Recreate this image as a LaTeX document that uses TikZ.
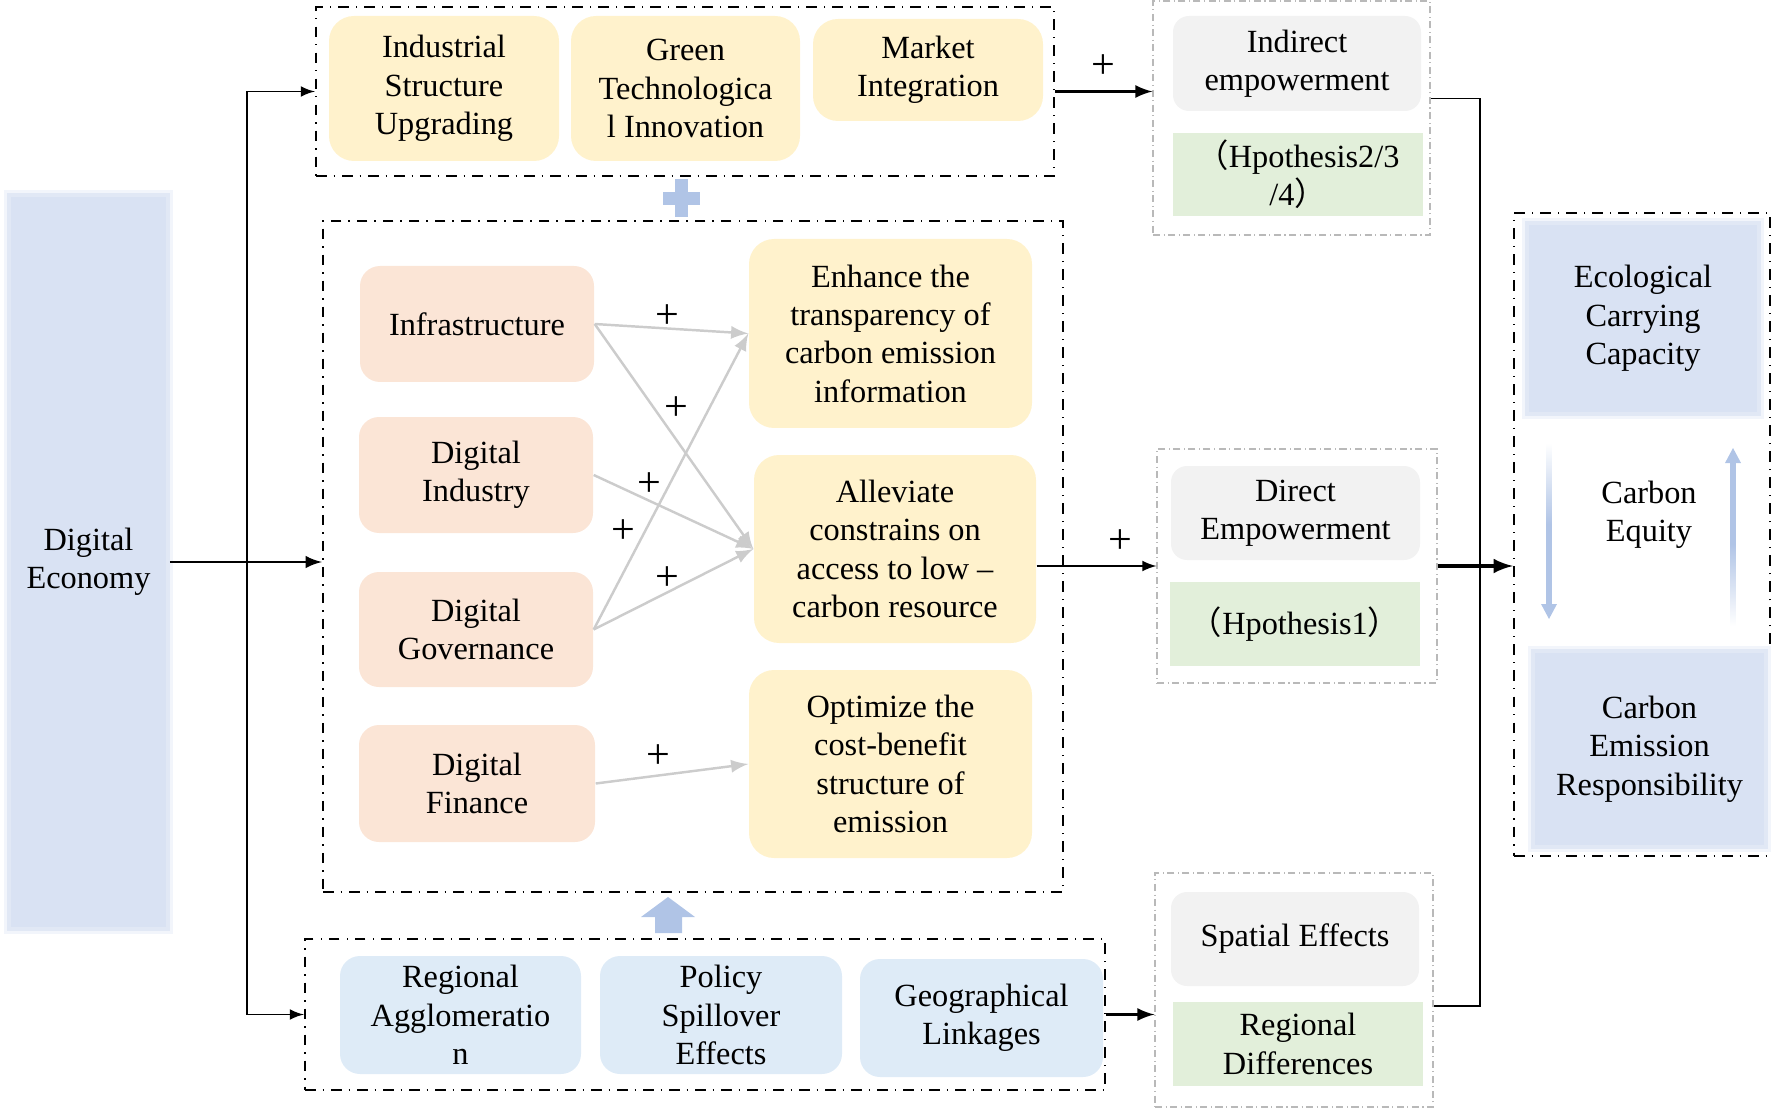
\documentclass[tikz,border=0pt]{standalone}
\usepackage{fontspec}
\setmainfont{Liberation Serif}
\newfontfamily\cjk{Noto Sans CJK SC}
\usepackage{tikz}
\usetikzlibrary{arrows,shapes}
\definecolor{boxyellow}{HTML}{FFF2CC}
\definecolor{boxsalmon}{HTML}{FBE5D6}
\definecolor{boxblue}{HTML}{DEEBF7}
\definecolor{boxgray}{HTML}{F2F2F2}
\definecolor{boxgreen}{HTML}{E2EFDA}
\definecolor{softblue}{HTML}{D9E2F3}
\definecolor{markblue}{HTML}{B0C4E6}
\definecolor{linkgray}{HTML}{CCCCCC}
\tikzstyle{txt} = [align=center, inner sep=0pt, font=\fontsize{9.2}{10.9}\selectfont]
\tikzstyle{ybox} = [txt, fill=boxyellow, rounded corners=2.5mm]
\tikzstyle{sbox} = [txt, fill=boxsalmon, rounded corners=2mm]
\tikzstyle{bbox} = [txt, fill=boxblue, rounded corners=2mm]
\tikzstyle{gbox} = [txt, fill=boxgray, rounded corners=1.6mm]
\tikzstyle{hbox} = [txt, fill=boxgreen]
\tikzstyle{soft} = [txt, fill=softblue, draw=softblue!80, line width=1pt, preaction={draw=softblue!35, line width=2.8pt}]
\tikzstyle{grp} = [draw=black, dash dot, line width=0.65pt]
\tikzstyle{lgrp} = [draw=gray!55, dash pattern=on 2pt off 1pt on 0.3pt off 1pt, line width=0.3pt]
\tikzstyle{arrow} = [->, line width=0.6pt]
\tikzstyle{garrow} = [->, draw=linkgray, line width=0.7pt]
\tikzstyle{sgn} = [font=\fontsize{12}{14}\selectfont]

\begin{document}
\begin{tikzpicture}[x=0.1mm,y=-0.1mm]
    \tikzset{>=latex}
    \useasboundingbox (0,0) rectangle (1777,1108);

    % left block
    \node[soft, minimum width=15.9mm, minimum height=73.4mm] (de) at (88.5,562) {Digital\\Economy};

    % upper channel
    \node[grp, minimum width=73.8mm, minimum height=16.9mm] (topgrp) at (685,91.5) {};
    \node[ybox, minimum width=23mm, minimum height=14.5mm] (isu) at (444,88.5) {Industrial\\Structure\\Upgrading};
    \node[ybox, minimum width=22.9mm, minimum height=14.5mm] (gti) at (685.5,88.5) {Green\\Technologica\\l Innovation};
    \node[ybox, minimum width=23mm, minimum height=10.2mm] (mi) at (928,70) {Market\\Integration};

    \node[lgrp, minimum width=27.7mm, minimum height=23.4mm] (indgrp) at (1291.5,118) {};
    \node[gbox, minimum width=24.8mm, minimum height=9.5mm] (indtxt) at (1297,63.5) {Indirect\\empowerment};
    \node[hbox, minimum width=25mm, minimum height=8.3mm] (indhyp) at (1298,174.5) {{\cjk （}Hpothesis2/3\\/4{\cjk ）}};

    % middle channel
    \node[grp, minimum width=74mm, minimum height=67.1mm] (midgrp) at (693,556.5) {};
    \node[sbox, minimum width=23.4mm, minimum height=11.6mm] (infra) at (477,324) {Infrastructure};
    \node[sbox, minimum width=23.4mm, minimum height=11.6mm] (dind) at (476,475) {Digital\\Industry};
    \node[sbox, minimum width=23.4mm, minimum height=11.5mm] (dgov) at (476,629.5) {Digital\\Governance};
    \node[sbox, minimum width=23.6mm, minimum height=11.7mm] (dfin) at (477,783.5) {Digital\\Finance};
    \node[ybox, minimum width=28.3mm, minimum height=18.9mm] (enh) at (890.5,333.5) {Enhance the\\transparency of\\carbon emission\\information};
    \node[ybox, minimum width=28.2mm, minimum height=18.8mm] (allev) at (895,549) {Alleviate\\constrains on\\access to low –\\carbon resource};
    \node[ybox, minimum width=28.3mm, minimum height=18.8mm] (opt) at (890.5,764) {Optimize the\\cost-benefit\\structure of\\emission};

    \node[lgrp, minimum width=28mm, minimum height=23.4mm] (dirgrp) at (1297,566) {};
    \node[gbox, minimum width=24.9mm, minimum height=9.4mm] (dirtxt) at (1295.5,513) {Direct\\Empowerment};
    \node[hbox, minimum width=25mm, minimum height=8.4mm] (dirhyp) at (1295,624) {{\cjk （}Hpothesis1{\cjk ）}};

    % lower channel
    \node[grp, minimum width=80mm, minimum height=15.1mm] (botgrp) at (705,1014.5) {};
    \node[bbox, minimum width=24.1mm, minimum height=11.8mm] (ragg) at (460.5,1015) {Regional\\Agglomeratio\\n};
    \node[bbox, minimum width=24.2mm, minimum height=11.8mm] (pol) at (721,1015) {Policy\\Spillover\\Effects};
    \node[bbox, minimum width=24.3mm, minimum height=11.8mm] (geo) at (981.5,1018) {Geographical\\Linkages};

    \node[lgrp, minimum width=27.8mm, minimum height=23.4mm] (spagrp) at (1294,990) {};
    \node[gbox, minimum width=24.8mm, minimum height=9.4mm] (spatxt) at (1295,939) {Spatial Effects};
    \node[hbox, minimum width=25mm, minimum height=8.4mm] (spadif) at (1298,1044) {Regional\\Differences};

    % result block
    \node[grp, minimum width=25.6mm, minimum height=64.3mm] (resgrp) at (1642,534.5) {};
    \node[soft, minimum width=23.2mm, minimum height=19.1mm] (eco) at (1643,318.5) {Ecological\\Carrying\\Capacity};
    \node[soft, minimum width=23.3mm, minimum height=19.6mm] (cer) at (1649.5,749) {Carbon\\Emission\\Responsibility};
    \node[txt] (ceq) at (1649,515) {Carbon\\Equity};

    \shade[top color=white, bottom color=markblue, middle color=markblue] (1546.5,443) rectangle (1551.5,605);
    \fill[markblue] (1541,604) -- (1557,604) -- (1549,619) -- cycle;
    \shade[top color=markblue, bottom color=white, middle color=markblue] (1730.5,462) rectangle (1735.5,626);
    \fill[markblue] (1725,463) -- (1741,463) -- (1733,448) -- cycle;

    % blue marks between channels
    \fill[markblue] (663,192) rectangle (700,205);
    \fill[markblue] (675,179) rectangle (688,217);
    \fill[markblue] (655,933) -- (655,917) -- (641,917) -- (668,897) -- (695,917) -- (682,917) -- (682,933) -- cycle;

    % connectors
    \coordinate (split) at (247,562);
    \coordinate (bus) at (1480,572);
    \draw[arrow] (de.east) -- (de.east -| midgrp.west);
    \draw[arrow, line width=0.4pt] (split) |- (topgrp.west);
    \draw[arrow, line width=0.4pt] (split) |- (botgrp.west);
    \draw[arrow, line width=0.7pt] (topgrp.east) -- (topgrp.east -| indgrp.west) node[sgn, midway, above] {+};
    \draw[arrow, line width=0.4pt] (allev.east |- dirgrp.west) -- (dirgrp.west) node[sgn, pos=.7, above] {+};
    \draw[arrow, line width=0.7pt] (botgrp.east) -- (botgrp.east -| spagrp.west);
    \draw[arrow, line width=0.9pt] (dirgrp.east) -- (dirgrp.east -| resgrp.west);
    \draw[line width=0.5pt] ([yshift=1.95mm]indgrp.east) -| (bus) |- ([yshift=-1.6mm]spagrp.east);

    \draw[garrow] (infra.east) -- (enh.west);
    \draw[garrow] (infra.east) -- (allev.west);
    \draw[garrow] (dind.east) -- (allev.west);
    \draw[garrow] (dgov.east) -- (enh.west);
    \draw[garrow] (dgov.east) -- (allev.west);
    \draw[garrow] (dfin.east) -- (opt.west);

    \node[sgn] (pa) at (667,317) {+};
    \node[sgn] (pb) at (676,409) {+};
    \node[sgn] (pc) at (649,485) {+};
    \node[sgn] (pd) at (623,532) {+};
    \node[sgn] (pe) at (667,579) {+};
    \node[sgn] (pf) at (658,757) {+};
\end{tikzpicture}
\end{document}
